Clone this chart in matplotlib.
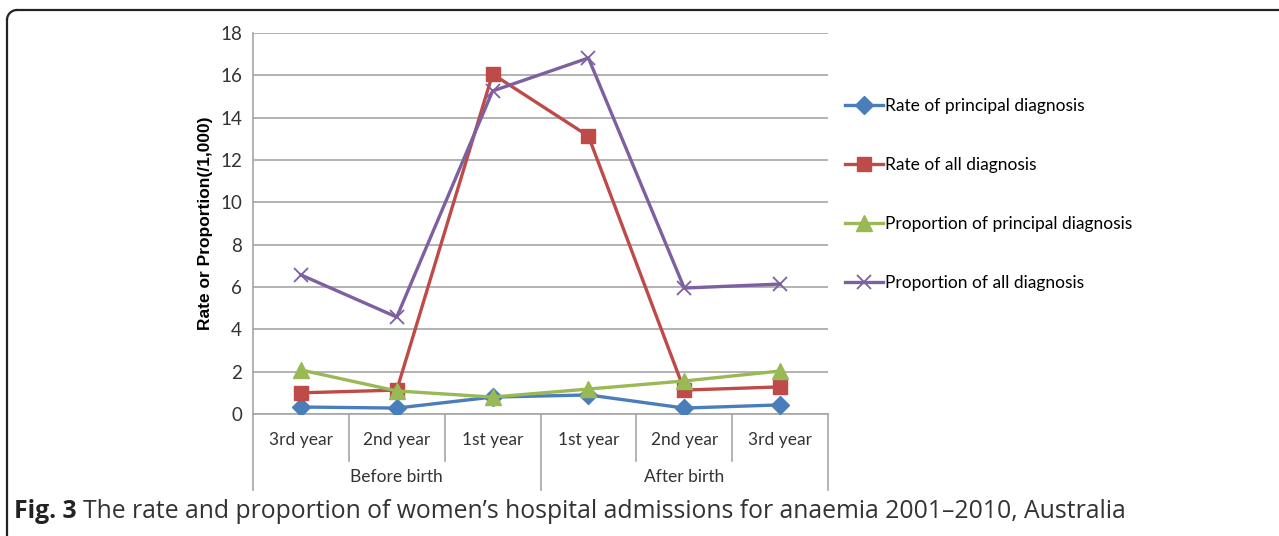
import matplotlib
matplotlib.use("Agg")
import matplotlib.pyplot as plt
from matplotlib.lines import Line2D
from matplotlib.patches import Arc

# data
years = ["3rd year", "2nd year", "1st year", "1st year", "2nd year", "3rd year"]
groups = ["Before birth", "After birth"]
rate_principal = [0.33, 0.28, 0.80, 0.90, 0.28, 0.43]
rate_all = [1.00, 1.13, 16.06, 13.13, 1.13, 1.28]
prop_principal = [2.08, 1.09, 0.80, 1.18, 1.56, 2.03]
prop_all = [6.57, 4.58, 15.26, 16.82, 5.95, 6.14]

series = [
    ("Rate of principal diagnosis", rate_principal, "#4a7ebb", "D", 9),
    ("Rate of all diagnosis", rate_all, "#be4b48", "s", 10),
    ("Proportion of principal diagnosis", prop_principal, "#98b954", "^", 11),
    ("Proportion of all diagnosis", prop_all, "#7d60a0", "x", 10),
]

chart_font = ["Lato", "Noto Sans", "DejaVu Sans"]
plt.rcParams["font.family"] = chart_font

fig = plt.figure(figsize=(12.79, 5.36), dpi=100)
W, H = 1279, 536
ax = fig.add_axes([253 / W, 1 - 414 / H, 575 / W, 381 / H])

x = list(range(len(years)))
handles = []
for label, vals, col, mk, ms in series:
    if mk == "x":
        ln, = ax.plot(x, vals, color=col, lw=2.4, marker=mk, ms=ms, mew=1.3,
                      label=label, zorder=3)
    else:
        ln, = ax.plot(x, vals, color=col, lw=2.4, marker=mk, ms=ms,
                      label=label, zorder=3)
    handles.append(ln)

ax.set_xlim(-0.5, 5.5)
ax.set_ylim(0, 18)
ax.set_yticks(range(0, 19, 2))
ax.set_xticks([])
ax.grid(axis="y", color="#a6a6a6", lw=1.2)
ax.set_axisbelow(True)
for s in ["top", "right"]:
    ax.spines[s].set_visible(False)
ax.spines["left"].set_color("#a6a6a6")
ax.spines["bottom"].set_color("#a6a6a6")
ax.spines["left"].set_linewidth(1.2)
ax.spines["bottom"].set_linewidth(1.2)
ax.tick_params(axis="y", length=0, pad=8, labelsize=13.5, labelcolor="#333333")

ax.set_ylabel("Rate or Proportion(/1,000)", fontsize=12.5, fontweight="bold",
              family=["Liberation Sans", "DejaVu Sans"], labelpad=5)

# category axis below the plot
tr = ax.get_xaxis_transform()
ax_h = 381
for i, lab in enumerate(years):
    ax.text(i, -26 / ax_h, lab, transform=tr, ha="center", va="center",
            fontsize=12.5, color="#333333")
for b in [0.5, 1.5, 3.5, 4.5]:
    ax.plot([b, b], [0, -47 / ax_h], transform=tr, color="#a6a6a6", lw=1.2,
            clip_on=False)
for b in [-0.5, 2.5, 5.5]:
    ax.plot([b, b], [0, -76 / ax_h], transform=tr, color="#a6a6a6", lw=1.2,
            clip_on=False)
for j, g in enumerate(groups):
    ax.text(1 + 3 * j, -63 / ax_h, g, transform=tr, ha="center", va="center",
            fontsize=12.5, color="#333333")

fig.legend(handles=handles, loc="upper left", bbox_to_anchor=(845 / W, 1 - 98 / H),
           frameon=False, fontsize=12.5, handlelength=2.2, handletextpad=0.1,
           labelspacing=2.47, borderaxespad=0, borderpad=0)

# frame of the figure panel
fig.add_artist(Line2D([17 / W, 1], [1 - 10 / H] * 2, color="#222222", lw=1.6,
                      transform=fig.transFigure))
fig.add_artist(Line2D([7 / W] * 2, [1 - 20 / H, 0], color="#222222", lw=1.6,
                      transform=fig.transFigure))
fig.add_artist(Arc((17 / W, 1 - 20 / H), 20 / W, 20 / H, theta1=90, theta2=180,
                   color="#222222", lw=1.6, transform=fig.transFigure))

# caption
cap_font = ["Open Sans", "DejaVu Sans"]
t1 = fig.text(14 / W, 1 - 511 / H, "Fig. 3", fontsize=17.8, fontweight="bold",
              family=cap_font, va="center", color="#222222")
fig.canvas.draw()
bb = t1.get_window_extent()
fig.text((bb.x1 + 6) / W, 1 - 511 / H,
         "The rate and proportion of women\u2019s hospital admissions for anaemia 2001\u20132010, Australia",
         fontsize=17.8, family=cap_font, va="center", color="#333333")

fig.savefig("out.png", dpi=100)
